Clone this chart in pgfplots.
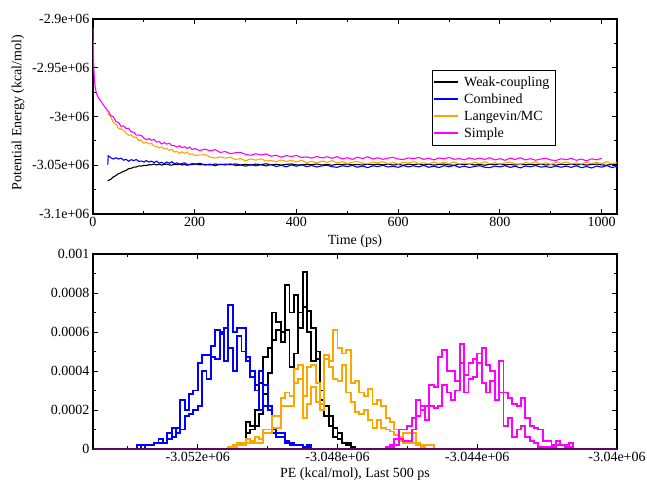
\documentclass[border=0pt]{standalone}
\usepackage{pgfplots}
\pgfplotsset{compat=1.18}
\usepackage{pgfplotstable}
\usepackage{fontspec}
\setmainfont{Liberation Serif}
\newcommand\ff{\fontsize{14}{16}\selectfont}
\definecolor{xorange}{RGB}{255,165,0}
\definecolor{xmag}{RGB}{255,0,255}
\definecolor{xblue}{RGB}{0,0,255}
\definecolor{xbase}{RGB}{90,10,90}

% time series: t, Weak-coupling, Combined, Langevin/MC, Simple
\pgfplotstableread{
t k b o m
0 nan nan nan -2909000
0.5 nan nan nan -2925000
1 nan nan nan -2940000
2 nan nan nan -2955000
3 nan nan nan -2963500
4 nan nan nan -2968500
5 nan nan nan -2972000
6 nan nan nan -2974500
8 nan nan nan -2977800
10 nan nan nan -2980000
12 nan nan nan -2981800
14 nan nan nan -2983300
16 nan nan nan -2984800
18 nan nan nan -2986200
20 nan nan nan -2987800
22 nan nan nan -2989300
24 nan nan nan -2990700
26 nan nan nan -2992200
28 nan nan nan -2993600
29 -3066200 -3049400 -2996500 -2994300
30 -3065680 -3040300 -2997400 -2994400
35 -3064420 -3042230 -3000400 -2999000
40 -3061990 -3043580 -3006300 -3000300
45 -3060560 -3042360 -3008000 -3005000
50 -3058610 -3043570 -3012100 -3006200
55 -3057680 -3042710 -3012800 -3010000
60 -3056170 -3044810 -3014000 -3009600
65 -3055300 -3043940 -3017200 -3012400
70 -3053530 -3045860 -3019200 -3012100
75 -3053150 -3044270 -3018900 -3015800
80 -3051960 -3045280 -3021300 -3016000
85 -3051780 -3044130 -3021200 -3019100
90 -3050640 -3046040 -3024400 -3019000
95 -3050900 -3045610 -3024400 -3019400
100 -3050110 -3046700 -3027400 -3022200
105 -3050290 -3045190 -3026300 -3023700
110 -3049430 -3046750 -3028200 -3022700
115 -3049620 -3045780 -3027600 -3024300
120 -3048700 -3047240 -3030400 -3023400
125 -3049700 -3045820 -3030500 -3026200
130 -3049050 -3047900 -3032300 -3025600
135 -3049850 -3046930 -3031100 -3028200
140 -3049200 -3048470 -3033300 -3026800
145 -3048800 -3046690 -3032700 -3028300
150 -3049650 -3047960 -3034800 -3027400
155 -3049900 -3046440 -3033600 -3029800
160 -3049000 -3048620 -3036500 -3029900
165 -3049450 -3047550 -3035700 -3031500
170 -3048750 -3049090 -3037800 -3030000
175 -3049750 -3048120 -3036100 -3031900
180 -3049100 -3047500 -3037900 -3031000
185 -3050000 -3049130 -3036500 -3032800
190 -3048950 -3049680 -3039100 -3031300
195 -3049400 -3048160 -3038200 -3033900
200 -3048550 -3049070 -3040100 -3032900
210 -3049500 -3047910 -3039400 -3035000
220 -3049150 -3049810 -3039200 -3033400
230 -3049700 -3048840 -3041500 -3035200
240 -3048750 -3050560 -3042600 -3034000
250 -3049450 -3048870 -3041400 -3036800
260 -3048800 -3049780 -3042700 -3036000
270 -3049500 -3048530 -3041700 -3038100
280 -3048600 -3050340 -3044100 -3037200
290 -3049700 -3049810 -3043200 -3036800
300 -3049050 -3050900 -3045400 -3038900
310 -3049850 -3049290 -3043500 -3039700
320 -3048750 -3050550 -3044700 -3038200
330 -3049400 -3049480 -3043400 -3039500
340 -3048500 -3050740 -3045600 -3038400
350 -3049600 -3049220 -3045100 -3040700
360 -3048950 -3051200 -3046400 -3039700
370 -3049750 -3050130 -3044600 -3041800
380 -3049100 -3051570 -3046200 -3040000
390 -3048700 -3049690 -3045000 -3041100
400 -3049550 -3050960 -3046600 -3039900
410 -3049800 -3049340 -3044900 -3042000
420 -3048900 -3051420 -3047200 -3041500
430 -3049450 -3050250 -3046000 -3042700
440 -3048750 -3051790 -3047700 -3041000
450 -3049750 -3050620 -3045600 -3042500
460 -3049100 -3050000 -3047000 -3041300
470 -3050000 -3051530 -3045300 -3042900
480 -3048950 -3052080 -3047600 -3041200
490 -3049400 -3050460 -3046400 -3043500
500 -3048650 -3051270 -3048100 -3042300
510 -3049600 -3050210 -3046900 -3043930
520 -3049250 -3052010 -3046150 -3041760
530 -3049800 -3050840 -3047900 -3043100
540 -3048850 -3052460 -3048450 -3041330
550 -3049550 -3050570 -3046700 -3043560
560 -3048900 -3051380 -3047650 -3042290
570 -3049600 -3050030 -3046300 -3043920
580 -3048700 -3051740 -3048320 -3042660
590 -3049800 -3051110 -3047050 -3041890
600 -3049150 -3052100 -3048900 -3043620
610 -3049950 -3050390 -3046820 -3044150
620 -3048850 -3051650 -3047740 -3042380
630 -3049500 -3050480 -3046260 -3043320
640 -3048600 -3051740 -3048180 -3041950
650 -3049700 -3050120 -3047500 -3043980
660 -3049050 -3052100 -3048620 -3042710
670 -3049850 -3050930 -3046740 -3044540
680 -3049200 -3052370 -3048160 -3042480
690 -3048800 -3050390 -3046880 -3043410
700 -3049650 -3051560 -3048300 -3041940
710 -3049900 -3050140 -3046600 -3043870
720 -3049000 -3052120 -3048800 -3043200
730 -3049450 -3050950 -3047500 -3044340
740 -3048750 -3052390 -3049100 -3042470
750 -3049750 -3051220 -3046900 -3043900
760 -3049100 -3050500 -3048200 -3042630
770 -3050000 -3052030 -3046400 -3044060
780 -3048950 -3052480 -3048600 -3042300
790 -3049400 -3050860 -3047300 -3044530
800 -3048650 -3051670 -3048900 -3043260
810 -3049600 -3050410 -3047600 -3044890
820 -3049250 -3052210 -3046800 -3042720
830 -3049800 -3051040 -3048500 -3044060
840 -3048850 -3052660 -3049000 -3042290
850 -3049550 -3050770 -3047200 -3044520
860 -3048900 -3051580 -3048100 -3043250
870 -3049600 -3050230 -3046700 -3044880
880 -3048700 -3051940 -3048700 -3043620
890 -3049800 -3051310 -3047400 -3042850
900 -3049150 -3052300 -3049200 -3044580
910 -3049950 -3050790 -3047100 -3045110
920 -3048850 -3052050 -3048000 -3043340
930 -3049500 -3050880 -3046500 -3044280
940 -3048600 -3052140 -3048400 -3042910
950 -3049700 -3050520 -3047700 -3044940
960 -3049050 -3052500 -3048800 -3043670
970 -3049850 -3051330 -3046900 -3045500
980 -3049200 -3052770 -3048300 -3043440
990 -3048800 -3050790 -3047000 -3044370
1000 -3049650 -3051960 -3048400 -3042900
1010 -3049900 -3050340 -3046400 nan
1020 -3049000 -3052320 -3048600 nan
1030 -3049450 -3051150 -3047300 nan
}\ts

% histograms: bin left edge, run a, run b
\pgfplotstableread{
x a b
-3053875 0 0
-3053750 0.00002 0
-3053625 0 0.00002
-3053500 0.00002 0.00002
-3053375 0.00002 0.00002
-3053250 0.00003 0.00003
-3053125 0.00003 0.00005
-3053000 0.00003 0.00003
-3052875 0.00008 0.00005
-3052750 0.00006 0.00011
-3052625 0.00011 0.00008
-3052500 0.00025 0.00010
-3052375 0.00020 0.00017
-3052250 0.00028 0.00018
-3052125 0.00030 0.00020
-3052000 0.00044 0.00022
-3051875 0.00048 0.00040
-3051750 0.00048 0.00036
-3051625 0.00053 0.00047
-3051500 0.00061 0.00046
-3051375 0.00059 0.00060
-3051250 0.00045 0.00062
-3051125 0.00074 0.00052
-3051000 0.00060 0.00040
-3050875 0.00062 0.00058
-3050750 0.00062 0.00050
-3050625 0.00045 0.00047
-3050500 0.00040 0.00037
-3050375 0.00033 0.00030
-3050250 0.00040 0.00020
-3050125 0.00022 0.00033
-3050000 0.00020 0.00022
-3049875 0.00008 0.00010
-3049750 0.00008 0.00006
-3049625 0.00008 0.00006
-3049500 0.00003 0.00004
-3049375 0.00002 0.00003
-3049250 0.00002 0.00002
-3049125 0.00002 0.00002
-3049000 0.00001 0
-3048875 0.00002 0.00001
-3048750 0 0
}\hblue

\pgfplotstableread{
x a b
-3051125 0 0
-3051000 0.00002 0.00001
-3050875 0.00003 0.00002
-3050750 0.00003 0.00003
-3050625 0.00014 0.00008
-3050500 0.00012 0.00010
-3050375 0.00020 0.00012
-3050250 0.00034 0.00018
-3050125 0.00047 0.00028
-3050000 0.00052 0.00039
-3049875 0.00070 0.00056
-3049750 0.00065 0.00061
-3049625 0.00060 0.00055
-3049500 0.00084 0.00061
-3049375 0.00070 0.00042
-3049250 0.00079 0.00049
-3049125 0.00062 0.00070
-3049000 0.00091 0.00073
-3048875 0.00071 0.00060
-3048750 0.00062 0.00045
-3048625 0.00046 0.00050
-3048500 0.00025 0.00030
-3048375 0.00022 0.00017
-3048250 0.00017 0.00012
-3048125 0.00006 0.00011
-3048000 0.00008 0.00005
-3047875 0.00003 0.00003
-3047750 0.00002 0.00003
-3047625 0.00001 0
-3047500 0 0
}\hblack

\pgfplotstableread{
x a b
-3051250 0 0
-3051125 0.00001 0
-3051000 0.00002 0.00001
-3050875 0.00003 0.00002
-3050750 0.00003 0.00002
-3050625 0.00005 0.00003
-3050500 0.00004 0.00003
-3050375 0.00006 0.00003
-3050250 0.00005 0.00003
-3050125 0.00010 0.00008
-3050000 0.00010 0.00008
-3049875 0.00017 0.00011
-3049750 0.00017 0.00011
-3049625 0.00026 0.00022
-3049500 0.00029 0.00022
-3049375 0.00027 0.00022
-3049250 0.00041 0.00034
-3049125 0.00043 0.00036
-3049000 0.00027 0.00016
-3048875 0.00042 0.00023
-3048750 0.00043 0.00032
-3048625 0.00034 0.00024
-3048500 0.00023 0.00020
-3048375 0.00048 0.00046
-3048250 0.00045 0.00042
-3048125 0.00061 0.00036
-3048000 0.00052 0.00035
-3047875 0.00049 0.00043
-3047750 0.00051 0.00029
-3047625 0.00034 0.00024
-3047500 0.00035 0.00019
-3047375 0.00029 0.00018
-3047250 0.00027 0.00020
-3047125 0.00031 0.00015
-3047000 0.00023 0.00011
-3046875 0.00025 0.00015
-3046750 0.00022 0.00011
-3046625 0.00016 0.00010
-3046500 0.00014 0.00009
-3046375 0.00010 0.00007
-3046250 0.00006 0.00004
-3046125 0.00008 0.00003
-3046000 0.00008 0.00003
-3045875 0.00008 0.00003
-3045750 0.00003 0.00002
-3045625 0.00002 0.00001
-3045500 0.00002 0
-3045375 0.00002 0
-3045250 0 0
}\horange

\pgfplotstableread{
x a b
-3046750 0 0
-3046625 0.00001 0
-3046500 0.00002 0.00001
-3046375 0.00005 0.00002
-3046250 0.00010 0.00005
-3046125 0.00010 0.00004
-3046000 0.00012 0.00004
-3045875 0.00016 0.00010
-3045750 0.00025 0.00017
-3045625 0.00020 0.00022
-3045500 0.00022 0.00015
-3045375 0.00033 0.00022
-3045250 0.00032 0.00021
-3045125 0.00047 0.00022
-3045000 0.00051 0.00033
-3044875 0.00040 0.00029
-3044750 0.00040 0.00025
-3044625 0.00035 0.00030
-3044500 0.00054 0.00044
-3044375 0.00038 0.00029
-3044250 0.00044 0.00036
-3044125 0.00046 0.00037
-3044000 0.00044 0.00049
-3043875 0.00052 0.00034
-3043750 0.00043 0.00029
-3043625 0.00040 0.00035
-3043500 0.00025 0.00025
-3043375 0.00045 0.00029
-3043250 0.00029 0.00012
-3043125 0.00026 0.00016
-3043000 0.00023 0.00006
-3042875 0.00022 0.00010
-3042750 0.00026 0.00012
-3042625 0.00016 0.00006
-3042500 0.00012 0.00004
-3042375 0.00011 0.00003
-3042250 0.00010 0.00001
-3042125 0.00004 0.00001
-3042000 0.00004 0.00001
-3041875 0.00002 0.00001
-3041750 0.00004 0.00002
-3041625 0.00002 0.00002
-3041500 0.00002 0.00001
-3041375 0.00003 0.00001
-3041250 0 0
}\hmag

\begin{document}
\begin{tikzpicture}[font=\ff]
\pgfplotsset{
  myaxis/.style={
    scale only axis, width=524pt, height=195pt,
    scaled x ticks=false, scaled y ticks=false,
    axis line style={line width=1.1pt},
    tick style={line width=1pt, black},
    major tick length=5pt, minor tick length=3pt,
    tick align=inside,
    tick label style={font=\ff},
    label style={font=\ff},
  }
}
\begin{axis}[myaxis, at={(0,235pt)}, anchor=south west,
  xmin=0, xmax=1030, ymin=-3100000, ymax=-2900000,
  xtick={0,200,400,600,800,1000}, xticklabels={0,200,400,600,800,1000},
  minor xtick={100,300,500,700,900},
  ytick={-3100000,-3050000,-3000000,-2950000,-2900000},
  yticklabels={-3.1e+06,-3.05e+06,-3e+06,-2.95e+06,-2.9e+06},
  minor ytick={-3075000,-3025000,-2975000,-2925000},
  xlabel={Time (ps)}, ylabel={Potential Energy (kcal/mol)},
  xlabel style={at={(rel axis cs:0.5,-0.1385)}, anchor=center},
  ylabel style={at={(rel axis cs:-0.1431,0.52)}, anchor=center},
  unbounded coords=jump,
  legend cell align=left,
  legend style={at={(rel axis cs:0.647,0.738)}, anchor=north west, draw=black, line width=0.7pt,
    font=\ff, inner xsep=1pt, inner ysep=3pt, nodes={inner xsep=5pt, inner ysep=3pt}},
  legend image code/.code={\draw[#1] (0pt,0pt) -- (20pt,0pt); \path (0pt,0pt) -- (24pt,0pt);},
]
\addlegendimage{black, line width=1.8pt}
\addlegendentry{Weak-coupling}
\addlegendimage{xblue, line width=1.8pt}
\addlegendentry{Combined}
\addlegendimage{xorange, line width=1.8pt}
\addlegendentry{Langevin/MC}
\addlegendimage{xmag, line width=1.8pt}
\addlegendentry{Simple}
\addplot[forget plot, black, line width=1.1pt] table[x=t, y=k] {\ts};
\addplot[forget plot, xblue, line width=1.1pt] table[x=t, y=b] {\ts};
\addplot[forget plot, xorange, line width=1.1pt] table[x=t, y=o] {\ts};
\addplot[forget plot, xmag, line width=1.1pt] table[x=t, y=m] {\ts};
\end{axis}

\begin{axis}[myaxis, at={(0,0)}, anchor=south west, clip=false,
  xmin=-3055000, xmax=-3040000, ymin=0, ymax=0.001,
  xtick={-3052000,-3048000,-3044000,-3040000},
  xticklabels={-3.052e+06,-3.048e+06,-3.044e+06,-3.04e+06},
  minor xtick={-3054000,-3050000,-3046000,-3042000},
  ytick={0,0.0002,0.0004,0.0006,0.0008,0.001},
  yticklabels={0,0.0002,0.0004,0.0006,0.0008,0.001},
  minor ytick={0.0001,0.0003,0.0005,0.0007,0.0009},
  xlabel={PE (kcal/mol), Last 500 ps},
  xlabel style={at={(rel axis cs:0.5,-0.128)}, anchor=center},
]
\addplot[const plot, black, line width=1.9pt] table[x=x, y=a] {\hblack};
\addplot[const plot, black, line width=1.9pt] table[x=x, y=b] {\hblack};
\addplot[const plot, xblue, line width=1.9pt] table[x=x, y=a] {\hblue};
\addplot[const plot, xblue, line width=1.9pt] table[x=x, y=b] {\hblue};
\addplot[const plot, xorange, line width=1.9pt] table[x=x, y=a] {\horange};
\addplot[const plot, xorange, line width=1.9pt] table[x=x, y=b] {\horange};
\addplot[const plot, xmag, line width=1.9pt] table[x=x, y=a] {\hmag};
\addplot[const plot, xmag, line width=1.9pt] table[x=x, y=b] {\hmag};
\addplot[xbase, line width=1.5pt] coordinates {(-3055000,0) (-3040000,0)};
\end{axis}
\pgfresetboundingbox
\path[use as bounding box] (-93pt,-31pt) rectangle (554pt,449pt);
\end{tikzpicture}
\end{document}
